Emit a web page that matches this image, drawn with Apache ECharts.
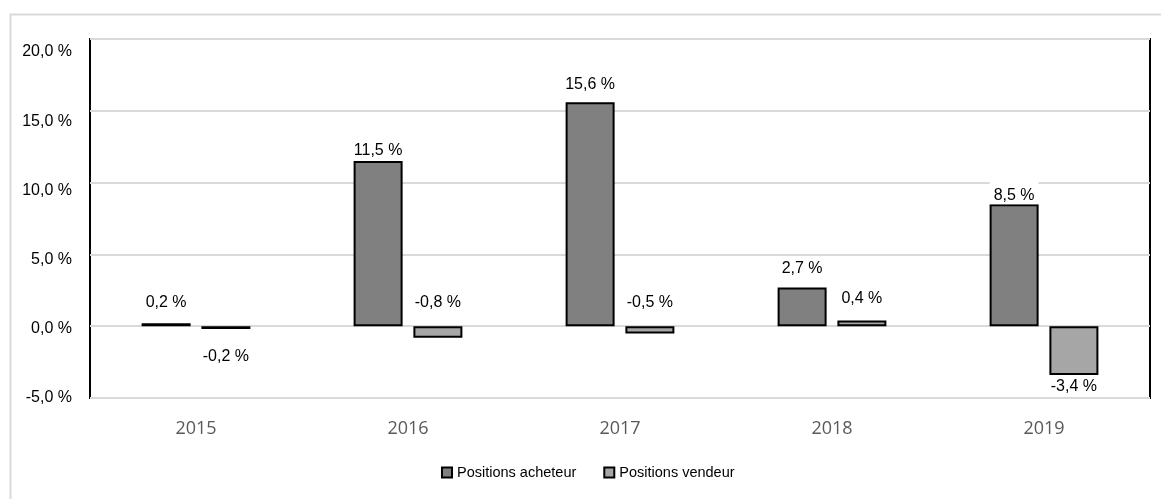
<!DOCTYPE html>
<html>
<head>
<meta charset="utf-8">
<script src="https://cdn.jsdelivr.net/npm/echarts@6/dist/echarts.min.js"></script>
<style>
  html, body { margin: 0; padding: 0; background: #fff; }
  #chart { width: 1161px; height: 499px; }
</style>
</head>
<body>
<div id="chart"></div>
<script>
// data
var years = ['2015', '2016', '2017', '2018', '2019']
var acheteur = [0.2, 11.5, 15.6, 2.7, 8.5]
var vendeur = [-0.2, -0.8, -0.5, 0.4, -3.4]
var seriesNames = ['Positions acheteur', 'Positions vendeur']

// label placement per point (the original chart had them moved by hand)
var acheteurLabelDist = [13, 2, 10, 11, 0]
var vendeurLabelPos = ['bottom', 'top', 'top', 'top', 'bottom']
var vendeurLabelDist = [20, 16, 16, 14, 4]

function fmt(v) {
  return v.toFixed(1).replace('.', ',') + ' %'
}

var labelFont = {
  fontFamily: 'Liberation Sans, Arial, sans-serif',
  fontSize: 16,
  color: '#000'
}

var chart = echarts.init(document.getElementById('chart'), null, { renderer: 'canvas' })

var acheteurData = acheteur.map(function(v, i) {
  var label = Object.assign({
    show: true,
    position: 'top',
    distance: acheteurLabelDist[i],
    formatter: function(p) { return fmt(p.value) }
  }, labelFont)
  if (i === 4) {
    label.backgroundColor = '#fff'
    label.padding = [8, 4, 1, 4]
  }
  return { value: v, label: label }
})

var vendeurData = vendeur.map(function(v, i) {
  return {
    value: v,
    label: Object.assign({
      show: true,
      position: vendeurLabelPos[i],
      distance: vendeurLabelDist[i],
      formatter: function(p) { return fmt(p.value) }
    }, labelFont)
  }
})

chart.setOption({
  animation: false,
  graphic: [{
    type: 'rect',
    left: 8,
    top: 12,
    shape: { width: 1170, height: 520 },
    style: { fill: 'none', stroke: '#d9d9d9', lineWidth: 2 },
    silent: true,
    z: -1
  }],
  grid: {
    left: 90,
    top: 39,
    right: 11,
    bottom: 101,
    show: true,
    borderColor: '#000',
    borderWidth: 2,
    backgroundColor: 'transparent'
  },
  legend: {
    data: seriesNames,
    bottom: 14,
    left: 436,
    itemWidth: 10,
    itemHeight: 10,
    itemGap: 27,
    icon: 'rect',
    textStyle: {
      fontFamily: 'Liberation Sans, Arial, sans-serif',
      fontSize: 14.5,
      color: '#000'
    }
  },
  xAxis: {
    type: 'category',
    data: years,
    axisLine: { show: false },
    axisTick: { show: false },
    axisLabel: {
      margin: 22,
      fontFamily: 'Open Sans, sans-serif',
      fontSize: 18,
      color: '#595959'
    }
  },
  yAxis: [
    {
      // scale for bars and gridlines
      type: 'value',
      min: -5,
      max: 20,
      interval: 5,
      axisLine: { show: false },
      axisTick: { show: false },
      splitLine: { lineStyle: { color: '#d9d9d9', width: 2 } },
      axisLabel: { show: false }
    },
    {
      // tick labels, which sit slightly off the gridlines in the original
      type: 'value',
      position: 'left',
      min: -5,
      max: 20.94,
      interval: 5,
      axisLine: { show: false },
      axisTick: { show: false },
      splitLine: { show: false },
      axisLabel: {
        margin: 18,
        showMaxLabel: false,
        fontFamily: 'Liberation Sans, Arial, sans-serif',
        fontSize: 16,
        color: '#000',
        formatter: function(v) { return v % 5 === 0 ? fmt(v) : '' }
      }
    }
  ],
  series: [
    {
      name: seriesNames[0],
      type: 'bar',
      barWidth: 49,
      barGap: '22%',
      itemStyle: { color: '#808080', borderColor: '#000', borderWidth: 2 },
      data: acheteurData
    },
    {
      name: seriesNames[1],
      type: 'bar',
      barWidth: 49,
      itemStyle: { color: '#a6a6a6', borderColor: '#000', borderWidth: 2 },
      data: vendeurData
    }
  ]
})
</script>
</body>
</html>
